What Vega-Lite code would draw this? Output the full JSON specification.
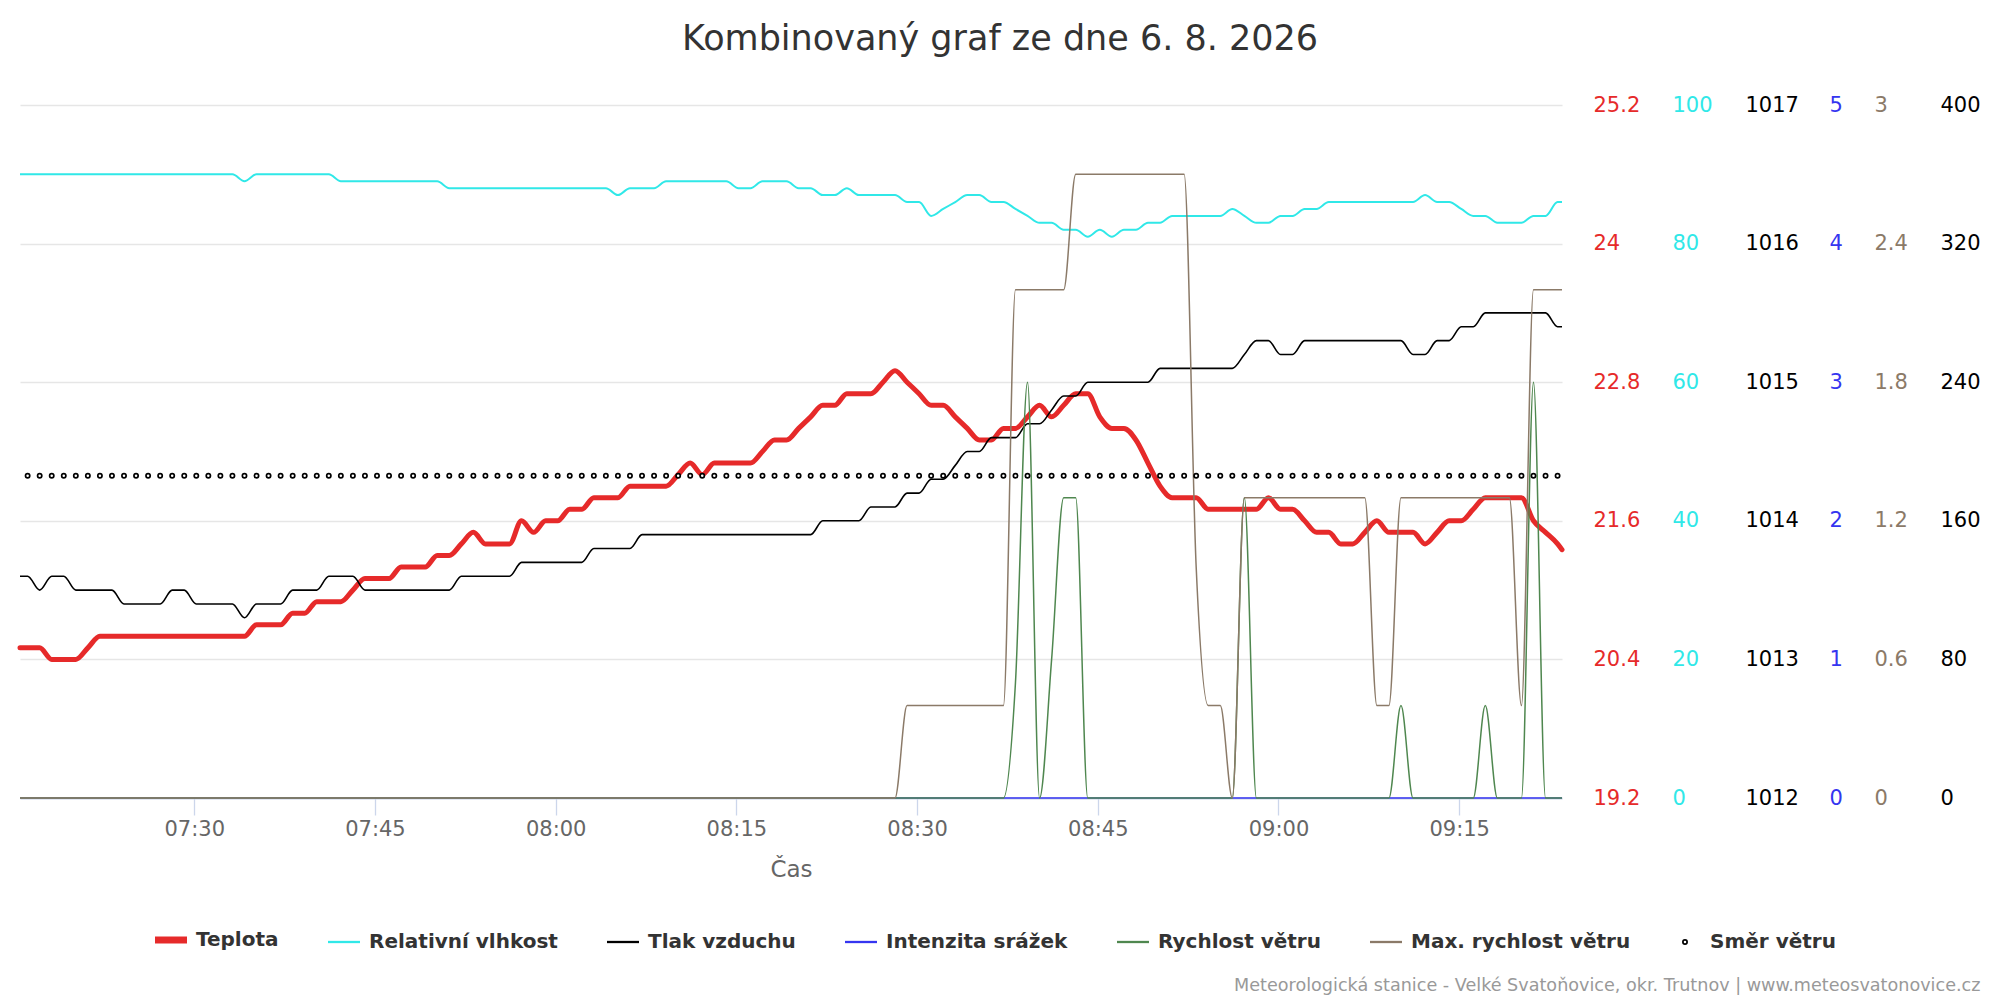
{
  "$schema": "https://vega.github.io/schema/vega-lite/v6.json",
  "width": 1542,
  "height": 693,
  "autosize": {"type": "none"},
  "padding": {"left": 20, "top": 105, "right": 438, "bottom": 202},
  "background": "white",
  "title": {"text": "Kombinovaný graf ze dne 6. 8. 2026", "anchor": "middle", "frame": "group", "dx": 209, "offset": 9, "baseline": "alphabetic", "font": "DejaVu Sans", "fontSize": 35, "fontWeight": "normal", "color": "#333333"},
  "datasets": {
    "meteo": [
      {"t":"2026-08-06T07:15:32","T":20.5,"H":90,"P":1013.6,"R":0,"W":0,"G":0,"D":null},
      {"t":"2026-08-06T07:16:10","T":20.5,"H":90,"P":1013.6,"R":0,"W":0,"G":0,"D":186},
      {"t":"2026-08-06T07:17:10","T":20.5,"H":90,"P":1013.5,"R":0,"W":0,"G":0,"D":186},
      {"t":"2026-08-06T07:18:10","T":20.4,"H":90,"P":1013.6,"R":0,"W":0,"G":0,"D":186},
      {"t":"2026-08-06T07:19:10","T":20.4,"H":90,"P":1013.6,"R":0,"W":0,"G":0,"D":186},
      {"t":"2026-08-06T07:20:10","T":20.4,"H":90,"P":1013.5,"R":0,"W":0,"G":0,"D":186},
      {"t":"2026-08-06T07:21:10","T":20.5,"H":90,"P":1013.5,"R":0,"W":0,"G":0,"D":186},
      {"t":"2026-08-06T07:22:10","T":20.6,"H":90,"P":1013.5,"R":0,"W":0,"G":0,"D":186},
      {"t":"2026-08-06T07:23:10","T":20.6,"H":90,"P":1013.5,"R":0,"W":0,"G":0,"D":186},
      {"t":"2026-08-06T07:24:10","T":20.6,"H":90,"P":1013.4,"R":0,"W":0,"G":0,"D":186},
      {"t":"2026-08-06T07:25:10","T":20.6,"H":90,"P":1013.4,"R":0,"W":0,"G":0,"D":186},
      {"t":"2026-08-06T07:26:10","T":20.6,"H":90,"P":1013.4,"R":0,"W":0,"G":0,"D":186},
      {"t":"2026-08-06T07:27:10","T":20.6,"H":90,"P":1013.4,"R":0,"W":0,"G":0,"D":186},
      {"t":"2026-08-06T07:28:10","T":20.6,"H":90,"P":1013.5,"R":0,"W":0,"G":0,"D":186},
      {"t":"2026-08-06T07:29:10","T":20.6,"H":90,"P":1013.5,"R":0,"W":0,"G":0,"D":186},
      {"t":"2026-08-06T07:30:10","T":20.6,"H":90,"P":1013.4,"R":0,"W":0,"G":0,"D":186},
      {"t":"2026-08-06T07:31:10","T":20.6,"H":90,"P":1013.4,"R":0,"W":0,"G":0,"D":186},
      {"t":"2026-08-06T07:32:10","T":20.6,"H":90,"P":1013.4,"R":0,"W":0,"G":0,"D":186},
      {"t":"2026-08-06T07:33:10","T":20.6,"H":90,"P":1013.4,"R":0,"W":0,"G":0,"D":186},
      {"t":"2026-08-06T07:34:10","T":20.6,"H":89,"P":1013.3,"R":0,"W":0,"G":0,"D":186},
      {"t":"2026-08-06T07:35:10","T":20.7,"H":90,"P":1013.4,"R":0,"W":0,"G":0,"D":186},
      {"t":"2026-08-06T07:36:10","T":20.7,"H":90,"P":1013.4,"R":0,"W":0,"G":0,"D":186},
      {"t":"2026-08-06T07:37:10","T":20.7,"H":90,"P":1013.4,"R":0,"W":0,"G":0,"D":186},
      {"t":"2026-08-06T07:38:10","T":20.8,"H":90,"P":1013.5,"R":0,"W":0,"G":0,"D":186},
      {"t":"2026-08-06T07:39:10","T":20.8,"H":90,"P":1013.5,"R":0,"W":0,"G":0,"D":186},
      {"t":"2026-08-06T07:40:10","T":20.9,"H":90,"P":1013.5,"R":0,"W":0,"G":0,"D":186},
      {"t":"2026-08-06T07:41:10","T":20.9,"H":90,"P":1013.6,"R":0,"W":0,"G":0,"D":186},
      {"t":"2026-08-06T07:42:10","T":20.9,"H":89,"P":1013.6,"R":0,"W":0,"G":0,"D":186},
      {"t":"2026-08-06T07:43:10","T":21.0,"H":89,"P":1013.6,"R":0,"W":0,"G":0,"D":186},
      {"t":"2026-08-06T07:44:10","T":21.1,"H":89,"P":1013.5,"R":0,"W":0,"G":0,"D":186},
      {"t":"2026-08-06T07:45:10","T":21.1,"H":89,"P":1013.5,"R":0,"W":0,"G":0,"D":186},
      {"t":"2026-08-06T07:46:10","T":21.1,"H":89,"P":1013.5,"R":0,"W":0,"G":0,"D":186},
      {"t":"2026-08-06T07:47:10","T":21.2,"H":89,"P":1013.5,"R":0,"W":0,"G":0,"D":186},
      {"t":"2026-08-06T07:48:10","T":21.2,"H":89,"P":1013.5,"R":0,"W":0,"G":0,"D":186},
      {"t":"2026-08-06T07:49:10","T":21.2,"H":89,"P":1013.5,"R":0,"W":0,"G":0,"D":186},
      {"t":"2026-08-06T07:50:10","T":21.3,"H":89,"P":1013.5,"R":0,"W":0,"G":0,"D":186},
      {"t":"2026-08-06T07:51:10","T":21.3,"H":88,"P":1013.5,"R":0,"W":0,"G":0,"D":186},
      {"t":"2026-08-06T07:52:10","T":21.4,"H":88,"P":1013.6,"R":0,"W":0,"G":0,"D":186},
      {"t":"2026-08-06T07:53:10","T":21.5,"H":88,"P":1013.6,"R":0,"W":0,"G":0,"D":186},
      {"t":"2026-08-06T07:54:10","T":21.4,"H":88,"P":1013.6,"R":0,"W":0,"G":0,"D":186},
      {"t":"2026-08-06T07:55:10","T":21.4,"H":88,"P":1013.6,"R":0,"W":0,"G":0,"D":186},
      {"t":"2026-08-06T07:56:10","T":21.4,"H":88,"P":1013.6,"R":0,"W":0,"G":0,"D":186},
      {"t":"2026-08-06T07:57:10","T":21.6,"H":88,"P":1013.7,"R":0,"W":0,"G":0,"D":186},
      {"t":"2026-08-06T07:58:10","T":21.5,"H":88,"P":1013.7,"R":0,"W":0,"G":0,"D":186},
      {"t":"2026-08-06T07:59:10","T":21.6,"H":88,"P":1013.7,"R":0,"W":0,"G":0,"D":186},
      {"t":"2026-08-06T08:00:10","T":21.6,"H":88,"P":1013.7,"R":0,"W":0,"G":0,"D":186},
      {"t":"2026-08-06T08:01:10","T":21.7,"H":88,"P":1013.7,"R":0,"W":0,"G":0,"D":186},
      {"t":"2026-08-06T08:02:10","T":21.7,"H":88,"P":1013.7,"R":0,"W":0,"G":0,"D":186},
      {"t":"2026-08-06T08:03:10","T":21.8,"H":88,"P":1013.8,"R":0,"W":0,"G":0,"D":186},
      {"t":"2026-08-06T08:04:10","T":21.8,"H":88,"P":1013.8,"R":0,"W":0,"G":0,"D":186},
      {"t":"2026-08-06T08:05:10","T":21.8,"H":87,"P":1013.8,"R":0,"W":0,"G":0,"D":186},
      {"t":"2026-08-06T08:06:10","T":21.9,"H":88,"P":1013.8,"R":0,"W":0,"G":0,"D":186},
      {"t":"2026-08-06T08:07:10","T":21.9,"H":88,"P":1013.9,"R":0,"W":0,"G":0,"D":186},
      {"t":"2026-08-06T08:08:10","T":21.9,"H":88,"P":1013.9,"R":0,"W":0,"G":0,"D":186},
      {"t":"2026-08-06T08:09:10","T":21.9,"H":89,"P":1013.9,"R":0,"W":0,"G":0,"D":186},
      {"t":"2026-08-06T08:10:10","T":22.0,"H":89,"P":1013.9,"R":0,"W":0,"G":0,"D":186},
      {"t":"2026-08-06T08:11:10","T":22.1,"H":89,"P":1013.9,"R":0,"W":0,"G":0,"D":186},
      {"t":"2026-08-06T08:12:10","T":22.0,"H":89,"P":1013.9,"R":0,"W":0,"G":0,"D":186},
      {"t":"2026-08-06T08:13:10","T":22.1,"H":89,"P":1013.9,"R":0,"W":0,"G":0,"D":186},
      {"t":"2026-08-06T08:14:10","T":22.1,"H":89,"P":1013.9,"R":0,"W":0,"G":0,"D":186},
      {"t":"2026-08-06T08:15:10","T":22.1,"H":88,"P":1013.9,"R":0,"W":0,"G":0,"D":186},
      {"t":"2026-08-06T08:16:10","T":22.1,"H":88,"P":1013.9,"R":0,"W":0,"G":0,"D":186},
      {"t":"2026-08-06T08:17:10","T":22.2,"H":89,"P":1013.9,"R":0,"W":0,"G":0,"D":186},
      {"t":"2026-08-06T08:18:10","T":22.3,"H":89,"P":1013.9,"R":0,"W":0,"G":0,"D":186},
      {"t":"2026-08-06T08:19:10","T":22.3,"H":89,"P":1013.9,"R":0,"W":0,"G":0,"D":186},
      {"t":"2026-08-06T08:20:10","T":22.4,"H":88,"P":1013.9,"R":0,"W":0,"G":0,"D":186},
      {"t":"2026-08-06T08:21:10","T":22.5,"H":88,"P":1013.9,"R":0,"W":0,"G":0,"D":186},
      {"t":"2026-08-06T08:22:10","T":22.6,"H":87,"P":1014.0,"R":0,"W":0,"G":0,"D":186},
      {"t":"2026-08-06T08:23:10","T":22.6,"H":87,"P":1014.0,"R":0,"W":0,"G":0,"D":186},
      {"t":"2026-08-06T08:24:10","T":22.7,"H":88,"P":1014.0,"R":0,"W":0,"G":0,"D":186},
      {"t":"2026-08-06T08:25:10","T":22.7,"H":87,"P":1014.0,"R":0,"W":0,"G":0,"D":186},
      {"t":"2026-08-06T08:26:10","T":22.7,"H":87,"P":1014.1,"R":0,"W":0,"G":0,"D":186},
      {"t":"2026-08-06T08:27:10","T":22.8,"H":87,"P":1014.1,"R":0,"W":0,"G":0,"D":186},
      {"t":"2026-08-06T08:28:10","T":22.9,"H":87,"P":1014.1,"R":0,"W":0,"G":0,"D":186},
      {"t":"2026-08-06T08:29:10","T":22.8,"H":86,"P":1014.2,"R":0,"W":0,"G":0.4,"D":186},
      {"t":"2026-08-06T08:30:10","T":22.7,"H":86,"P":1014.2,"R":0,"W":0,"G":0.4,"D":186},
      {"t":"2026-08-06T08:31:10","T":22.6,"H":84,"P":1014.3,"R":0,"W":0,"G":0.4,"D":186},
      {"t":"2026-08-06T08:32:10","T":22.6,"H":85,"P":1014.3,"R":0,"W":0,"G":0.4,"D":186},
      {"t":"2026-08-06T08:33:10","T":22.5,"H":86,"P":1014.4,"R":0,"W":0,"G":0.4,"D":186},
      {"t":"2026-08-06T08:34:10","T":22.4,"H":87,"P":1014.5,"R":0,"W":0,"G":0.4,"D":186},
      {"t":"2026-08-06T08:35:10","T":22.3,"H":87,"P":1014.5,"R":0,"W":0,"G":0.4,"D":186},
      {"t":"2026-08-06T08:36:10","T":22.3,"H":86,"P":1014.6,"R":0,"W":0,"G":0.4,"D":186},
      {"t":"2026-08-06T08:37:10","T":22.4,"H":86,"P":1014.6,"R":0,"W":0,"G":0.4,"D":186},
      {"t":"2026-08-06T08:38:10","T":22.4,"H":85,"P":1014.6,"R":0,"W":0.5,"G":2.2,"D":186},
      {"t":"2026-08-06T08:39:10","T":22.5,"H":84,"P":1014.7,"R":0,"W":1.8,"G":2.2,"D":186},
      {"t":"2026-08-06T08:40:10","T":22.6,"H":83,"P":1014.7,"R":0,"W":0,"G":2.2,"D":186},
      {"t":"2026-08-06T08:41:10","T":22.5,"H":83,"P":1014.8,"R":0,"W":0.6,"G":2.2,"D":186},
      {"t":"2026-08-06T08:42:10","T":22.6,"H":82,"P":1014.9,"R":0,"W":1.3,"G":2.2,"D":186},
      {"t":"2026-08-06T08:43:10","T":22.7,"H":82,"P":1014.9,"R":0,"W":1.3,"G":2.7,"D":186},
      {"t":"2026-08-06T08:44:10","T":22.7,"H":81,"P":1015.0,"R":0,"W":0,"G":2.7,"D":186},
      {"t":"2026-08-06T08:45:10","T":22.5,"H":82,"P":1015.0,"R":0,"W":0,"G":2.7,"D":186},
      {"t":"2026-08-06T08:46:10","T":22.4,"H":81,"P":1015.0,"R":0,"W":0,"G":2.7,"D":186},
      {"t":"2026-08-06T08:47:10","T":22.4,"H":82,"P":1015.0,"R":0,"W":0,"G":2.7,"D":186},
      {"t":"2026-08-06T08:48:10","T":22.3,"H":82,"P":1015.0,"R":0,"W":0,"G":2.7,"D":186},
      {"t":"2026-08-06T08:49:10","T":22.1,"H":83,"P":1015.0,"R":0,"W":0,"G":2.7,"D":186},
      {"t":"2026-08-06T08:50:10","T":21.9,"H":83,"P":1015.1,"R":0,"W":0,"G":2.7,"D":186},
      {"t":"2026-08-06T08:51:10","T":21.8,"H":84,"P":1015.1,"R":0,"W":0,"G":2.7,"D":186},
      {"t":"2026-08-06T08:52:10","T":21.8,"H":84,"P":1015.1,"R":0,"W":0,"G":2.7,"D":186},
      {"t":"2026-08-06T08:53:10","T":21.8,"H":84,"P":1015.1,"R":0,"W":0,"G":1.0,"D":186},
      {"t":"2026-08-06T08:54:10","T":21.7,"H":84,"P":1015.1,"R":0,"W":0,"G":0.4,"D":186},
      {"t":"2026-08-06T08:55:10","T":21.7,"H":84,"P":1015.1,"R":0,"W":0,"G":0.4,"D":186},
      {"t":"2026-08-06T08:56:10","T":21.7,"H":85,"P":1015.1,"R":0,"W":0,"G":0,"D":186},
      {"t":"2026-08-06T08:57:10","T":21.7,"H":84,"P":1015.2,"R":0,"W":1.3,"G":1.3,"D":186},
      {"t":"2026-08-06T08:58:10","T":21.7,"H":83,"P":1015.3,"R":0,"W":0,"G":1.3,"D":186},
      {"t":"2026-08-06T08:59:10","T":21.8,"H":83,"P":1015.3,"R":0,"W":0,"G":1.3,"D":186},
      {"t":"2026-08-06T09:00:10","T":21.7,"H":84,"P":1015.2,"R":0,"W":0,"G":1.3,"D":186},
      {"t":"2026-08-06T09:01:10","T":21.7,"H":84,"P":1015.2,"R":0,"W":0,"G":1.3,"D":186},
      {"t":"2026-08-06T09:02:10","T":21.6,"H":85,"P":1015.3,"R":0,"W":0,"G":1.3,"D":186},
      {"t":"2026-08-06T09:03:10","T":21.5,"H":85,"P":1015.3,"R":0,"W":0,"G":1.3,"D":186},
      {"t":"2026-08-06T09:04:10","T":21.5,"H":86,"P":1015.3,"R":0,"W":0,"G":1.3,"D":186},
      {"t":"2026-08-06T09:05:10","T":21.4,"H":86,"P":1015.3,"R":0,"W":0,"G":1.3,"D":186},
      {"t":"2026-08-06T09:06:10","T":21.4,"H":86,"P":1015.3,"R":0,"W":0,"G":1.3,"D":186},
      {"t":"2026-08-06T09:07:10","T":21.5,"H":86,"P":1015.3,"R":0,"W":0,"G":1.3,"D":186},
      {"t":"2026-08-06T09:08:10","T":21.6,"H":86,"P":1015.3,"R":0,"W":0,"G":0.4,"D":186},
      {"t":"2026-08-06T09:09:10","T":21.5,"H":86,"P":1015.3,"R":0,"W":0,"G":0.4,"D":186},
      {"t":"2026-08-06T09:10:10","T":21.5,"H":86,"P":1015.3,"R":0,"W":0.4,"G":1.3,"D":186},
      {"t":"2026-08-06T09:11:10","T":21.5,"H":86,"P":1015.2,"R":0,"W":0,"G":1.3,"D":186},
      {"t":"2026-08-06T09:12:10","T":21.4,"H":87,"P":1015.2,"R":0,"W":0,"G":1.3,"D":186},
      {"t":"2026-08-06T09:13:10","T":21.5,"H":86,"P":1015.3,"R":0,"W":0,"G":1.3,"D":186},
      {"t":"2026-08-06T09:14:10","T":21.6,"H":86,"P":1015.3,"R":0,"W":0,"G":1.3,"D":186},
      {"t":"2026-08-06T09:15:10","T":21.6,"H":85,"P":1015.4,"R":0,"W":0,"G":1.3,"D":186},
      {"t":"2026-08-06T09:16:10","T":21.7,"H":84,"P":1015.4,"R":0,"W":0,"G":1.3,"D":186},
      {"t":"2026-08-06T09:17:10","T":21.8,"H":84,"P":1015.5,"R":0,"W":0.4,"G":1.3,"D":186},
      {"t":"2026-08-06T09:18:10","T":21.8,"H":83,"P":1015.5,"R":0,"W":0,"G":1.3,"D":186},
      {"t":"2026-08-06T09:19:10","T":21.8,"H":83,"P":1015.5,"R":0,"W":0,"G":1.3,"D":186},
      {"t":"2026-08-06T09:20:10","T":21.8,"H":83,"P":1015.5,"R":0,"W":0,"G":0.4,"D":186},
      {"t":"2026-08-06T09:21:10","T":21.6,"H":84,"P":1015.5,"R":0,"W":1.8,"G":2.2,"D":186},
      {"t":"2026-08-06T09:22:10","T":21.5,"H":84,"P":1015.5,"R":0,"W":0,"G":2.2,"D":186},
      {"t":"2026-08-06T09:23:10","T":21.4,"H":86,"P":1015.4,"R":0,"W":0,"G":2.2,"D":186},
      {"t":"2026-08-06T09:23:32","T":21.35,"H":86,"P":1015.4,"R":0,"W":0,"G":2.2,"D":null}
    ]
  },
  "data": {"name": "meteo"},
  "layer": [
    {
      "mark": {"type": "line", "interpolate": "monotone", "strokeWidth": 5, "strokeJoin": "round", "strokeCap": "round"},
      "encoding": {
        "x": {"field": "t", "type": "temporal",
          "scale": {"domain": [{"year": 2026, "month": 8, "date": 6, "hours": 7, "minutes": 15, "seconds": 32}, {"year": 2026, "month": 8, "date": 6, "hours": 9, "minutes": 23, "seconds": 32}]},
          "axis": {"orient": "bottom", "format": "%H:%M",
            "values": [
              {"year": 2026, "month": 8, "date": 6, "hours": 7, "minutes": 30},
              {"year": 2026, "month": 8, "date": 6, "hours": 7, "minutes": 45},
              {"year": 2026, "month": 8, "date": 6, "hours": 8, "minutes": 0},
              {"year": 2026, "month": 8, "date": 6, "hours": 8, "minutes": 15},
              {"year": 2026, "month": 8, "date": 6, "hours": 8, "minutes": 30},
              {"year": 2026, "month": 8, "date": 6, "hours": 8, "minutes": 45},
              {"year": 2026, "month": 8, "date": 6, "hours": 9, "minutes": 0},
              {"year": 2026, "month": 8, "date": 6, "hours": 9, "minutes": 15}
            ],
            "title": "Čas", "titleY": 78, "titleBaseline": "alphabetic", "titleFontSize": 23, "titleFontWeight": "normal", "titleColor": "#666666",
            "labelFontSize": 21, "labelColor": "#666666", "labelPadding": 3, "labelFlush": false, "labelOverlap": false,
            "ticks": true, "tickSize": 17, "tickColor": "#ccd6eb", "tickWidth": 1.3,
            "domain": true, "domainColor": "#ccd6eb", "domainWidth": 2, "grid": false}},
        "y": {"field": "T", "type": "quantitative",
          "scale": {"domain": [19.2, 25.2], "zero": false, "nice": false},
          "axis": {"orient": "right", "offset": 31, "values": [19.2, 20.4, 21.6, 22.8, 24, 25.2], "format": ".1~f", "labelColor": "#e62a2a", "grid": true, "gridColor": "#e6e6e6", "gridWidth": 1.3, "title": null}},
        "color": {"datum": "Teplota", "type": "nominal",
          "scale": {"domain": ["Teplota", "Relativní vlhkost", "Tlak vzduchu", "Intenzita srážek", "Rychlost větru", "Max. rychlost větru", "Směr větru"],
                    "range": ["#e62a2a", "#30e8e8", "#000000", "#3535f0", "#4f874f", "#8b7a68", "#000000"]},
          "legend": {"orient": "none", "legendX": 141, "legendY": 825, "direction": "horizontal", "title": null,
            "labelFont": "DejaVu Sans", "labelFontSize": 20, "labelFontWeight": "bold", "labelColor": "#333333", "labelLimit": 0,
            "symbolSize": 1024, "symbolType": "stroke", "labelOffset": 15, "columnPadding": 44, "padding": 0,
            "encode": {
              "labels": {"update": {"baseline": {"value": "middle"}}},
              "symbols": {"update": {
              "shape": {"signal": "datum.value === 'Směr větru' ? 'circle' : 'stroke'"},
              "size": {"signal": "datum.value === 'Směr větru' ? 18 : 1024"},
              "strokeWidth": {"signal": "datum.value === 'Teplota' ? 7 : (datum.value === 'Směr větru' ? 1.7 : 2.3)"},
              "fill": {"signal": "datum.value === 'Směr větru' ? 'white' : 'transparent'"},
              "opacity": {"value": 1}
            }}}}
        }
      }
    },
    {
      "mark": {"type": "line", "interpolate": "monotone", "strokeWidth": 2, "strokeJoin": "round"},
      "encoding": {
        "x": {"field": "t", "type": "temporal", "scale": {"domain": [{"year": 2026, "month": 8, "date": 6, "hours": 7, "minutes": 15, "seconds": 32}, {"year": 2026, "month": 8, "date": 6, "hours": 9, "minutes": 23, "seconds": 32}]}, "axis": null},
        "y": {"field": "H", "type": "quantitative", "scale": {"domain": [0, 100], "nice": false},
          "axis": {"orient": "right", "offset": 110, "values": [0, 20, 40, 60, 80, 100], "labelColor": "#30e8e8", "title": null}},
        "color": {"datum": "Relativní vlhkost", "type": "nominal"}
      }
    },
    {
      "mark": {"type": "line", "interpolate": "monotone", "strokeWidth": 1.6, "strokeJoin": "round"},
      "encoding": {
        "x": {"field": "t", "type": "temporal", "scale": {"domain": [{"year": 2026, "month": 8, "date": 6, "hours": 7, "minutes": 15, "seconds": 32}, {"year": 2026, "month": 8, "date": 6, "hours": 9, "minutes": 23, "seconds": 32}]}, "axis": null},
        "y": {"field": "P", "type": "quantitative", "scale": {"domain": [1012, 1017], "zero": false, "nice": false},
          "axis": {"orient": "right", "offset": 183, "values": [1012, 1013, 1014, 1015, 1016, 1017], "format": "d", "labelColor": "#000000", "title": null}},
        "color": {"datum": "Tlak vzduchu", "type": "nominal"}
      }
    },
    {
      "mark": {"type": "line", "interpolate": "monotone", "strokeWidth": 1.5},
      "encoding": {
        "x": {"field": "t", "type": "temporal", "scale": {"domain": [{"year": 2026, "month": 8, "date": 6, "hours": 7, "minutes": 15, "seconds": 32}, {"year": 2026, "month": 8, "date": 6, "hours": 9, "minutes": 23, "seconds": 32}]}, "axis": null},
        "y": {"field": "R", "type": "quantitative", "scale": {"domain": [0, 5], "nice": false},
          "axis": {"orient": "right", "offset": 267, "values": [0, 1, 2, 3, 4, 5], "labelColor": "#3535f0", "title": null}},
        "color": {"datum": "Intenzita srážek", "type": "nominal"}
      }
    },
    {
      "mark": {"type": "line", "interpolate": "monotone", "strokeWidth": 1.5},
      "encoding": {
        "x": {"field": "t", "type": "temporal", "scale": {"domain": [{"year": 2026, "month": 8, "date": 6, "hours": 7, "minutes": 15, "seconds": 32}, {"year": 2026, "month": 8, "date": 6, "hours": 9, "minutes": 23, "seconds": 32}]}, "axis": null},
        "y": {"field": "W", "type": "quantitative", "scale": {"domain": [0, 3], "nice": false},
          "axis": {"orient": "right", "offset": 312, "values": [0, 0.6, 1.2, 1.8, 2.4, 3], "format": ".1~f", "labelColor": "#8b7a68", "title": null}},
        "color": {"datum": "Rychlost větru", "type": "nominal"}
      }
    },
    {
      "mark": {"type": "line", "interpolate": "monotone", "strokeWidth": 1.5},
      "encoding": {
        "x": {"field": "t", "type": "temporal", "scale": {"domain": [{"year": 2026, "month": 8, "date": 6, "hours": 7, "minutes": 15, "seconds": 32}, {"year": 2026, "month": 8, "date": 6, "hours": 9, "minutes": 23, "seconds": 32}]}, "axis": null},
        "y": {"field": "G", "type": "quantitative", "scale": {"domain": [0, 3], "nice": false}, "axis": null},
        "color": {"datum": "Max. rychlost větru", "type": "nominal"}
      }
    },
    {
      "mark": {"type": "point", "shape": "circle", "filled": false, "fill": "white", "size": 18, "strokeWidth": 1.7, "opacity": 1},
      "encoding": {
        "x": {"field": "t", "type": "temporal", "scale": {"domain": [{"year": 2026, "month": 8, "date": 6, "hours": 7, "minutes": 15, "seconds": 32}, {"year": 2026, "month": 8, "date": 6, "hours": 9, "minutes": 23, "seconds": 32}]},
          "axis": {"orient": "bottom", "title": "Meteorologická stanice - Velké Svatoňovice, okr. Trutnov | www.meteosvatonovice.cz",
            "labels": false, "ticks": false, "domain": false, "grid": false,
            "titleX": 1960, "titleY": 192, "titleAlign": "right", "titleBaseline": "alphabetic", "titleFontSize": 17.6, "titleFontWeight": "normal", "titleColor": "#999999"}},
        "y": {"field": "D", "type": "quantitative", "scale": {"domain": [0, 400], "nice": false},
          "axis": {"orient": "right", "offset": 378, "values": [0, 80, 160, 240, 320, 400], "labelColor": "#000000", "title": null}},
        "color": {"datum": "Směr větru", "type": "nominal"}
      }
    }
  ],
  "resolve": {"scale": {"x": "independent", "y": "independent"}},
  "config": {
    "font": "DejaVu Sans",
    "view": {"stroke": null},
    "axis": {"labelFont": "DejaVu Sans", "titleFont": "DejaVu Sans"},
    "axisY": {"ticks": false, "tickSize": 0, "domain": false, "labelPadding": 0, "labelAlign": "left", "labelBaseline": "middle", "labelFontSize": 21, "grid": false, "labelFlush": false, "labelOverlap": false},
    "legend": {"symbolSize": 1024, "labelFont": "DejaVu Sans"}
  }
}
